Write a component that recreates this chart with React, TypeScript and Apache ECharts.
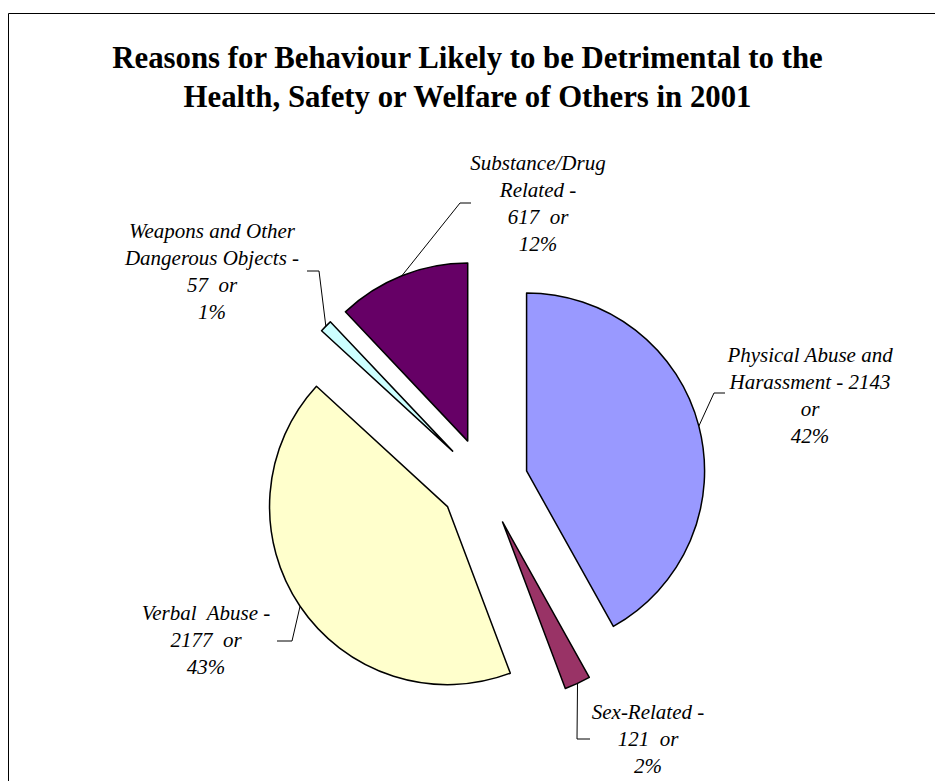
import React, { useEffect, useRef } from "react";
import * as echarts from "echarts";

// Reasons recorded in 2001, in clockwise order from 12 o'clock
const categories = [
  "Physical Abuse and Harassment",
  "Sex-Related",
  "Verbal Abuse",
  "Weapons and Other Dangerous Objects",
  "Substance/Drug Related",
];
const counts = [2143, 121, 2177, 57, 617];
const sliceColors = ["#9999FF", "#993366", "#FFFFCC", "#CCFFFF", "#660066"];

// Label wording, broken into lines; {v} = count, {p} = rounded percent
const labelTemplates = [
  ["Physical Abuse and", "Harassment - {v}", "or", "{p}%"],
  ["Sex-Related -", "{v}  or", "{p}%"],
  ["Verbal  Abuse -", "{v}  or", "{p}%"],
  ["Weapons and Other", "Dangerous Objects -", "{v}  or", "{p}%"],
  ["Substance/Drug", "Related -", "{v}  or", "{p}%"],
];

const titleText =
  "Reasons for Behaviour Likely to be Detrimental to the\nHealth, Safety or Welfare of Others in 2001";

// Layout
const PIE_CENTER = [484, 482];
const PIE_RADIUS = 178;
const EXPLODE = 44;
const LINE_H = 27;
// centre x and first-line middle y of each label block
const labelPos = [
  [810, 355],
  [648, 712],
  [206, 613],
  [212, 231],
  [538, 163],
];
// leader line elbow and end next to each label
const leaderElbow = [
  [714, 393],
  [577, 739],
  [292, 641],
  [319, 271],
  [460, 203],
];
const leaderEnd = [
  [725, 393],
  [590, 739],
  [277, 641],
  [307, 271],
  [471, 203],
];

const SERIF = "Liberation Serif";

export default function App() {
  const ref = useRef<HTMLDivElement>(null);

  useEffect(() => {
    if (!ref.current) return;
    const chart = echarts.init(ref.current, undefined, { renderer: "svg" });

    const total = counts.reduce((a, b) => a + b, 0);
    let cum = 0;
    const graphics: any[] = [
      {
        type: "rect",
        silent: true,
        z: 0,
        shape: { x: 8.5, y: 13.5, width: 1000, height: 1000 },
        style: { fill: "none", stroke: "#000", lineWidth: 1 },
      },
    ];

    counts.forEach((v, i) => {
      const start = (cum / total) * 360;
      cum += v;
      const end = (cum / total) * 360;
      const mid = (((start + end) / 2) * Math.PI) / 180;
      const reach = EXPLODE + PIE_RADIUS;
      const ax = PIE_CENTER[0] + reach * Math.sin(mid);
      const ay = PIE_CENTER[1] - reach * Math.cos(mid);
      const pct = Math.round((v / total) * 100);
      const text = labelTemplates[i]
        .map((l) => l.replace("{v}", String(v)).replace("{p}", String(pct)))
        .join("\n");

      graphics.push({
        type: "polyline",
        silent: true,
        z: 10,
        shape: { points: [[ax, ay], leaderElbow[i], leaderEnd[i]] },
        style: { fill: "none", stroke: "#000", lineWidth: 1 },
      });
      graphics.push({
        type: "text",
        silent: true,
        z: 10,
        x: labelPos[i][0],
        y: labelPos[i][1] - LINE_H / 2,
        style: {
          text,
          fill: "#000",
          fontFamily: SERIF,
          fontStyle: "italic",
          fontSize: 21,
          lineHeight: LINE_H,
          align: "center",
          verticalAlign: "top",
          textAlign: "center",
          textVerticalAlign: "top",
        },
      });
    });

    chart.setOption({
      animation: false,
      backgroundColor: "#fff",
      title: {
        text: titleText,
        left: "center",
        top: 33.5,
        textStyle: {
          fontFamily: SERIF,
          fontWeight: "bold",
          fontSize: 30.8,
          lineHeight: 39,
          color: "#000",
        },
      },
      series: [
        {
          type: "pie",
          center: PIE_CENTER,
          radius: PIE_RADIUS,
          startAngle: 90,
          clockwise: true,
          selectedMode: "multiple",
          selectedOffset: EXPLODE,
          avoidLabelOverlap: false,
          label: { show: false },
          labelLine: { show: false },
          emphasis: { disabled: true, scale: false },
          itemStyle: { borderColor: "#000", borderWidth: 1.5 },
          select: { itemStyle: { borderColor: "#000", borderWidth: 1.5 } },
          data: categories.map((name, i) => ({
            name,
            value: counts[i],
            selected: true,
            itemStyle: { color: sliceColors[i] },
            select: { itemStyle: { color: sliceColors[i] } },
          })),
        },
      ],
      graphic: graphics,
    });

    return () => chart.dispose();
  }, []);

  return (
    <div
      ref={ref}
      style={{ position: "fixed", left: 0, top: 0, width: 935, height: 781 }}
    />
  );
}
